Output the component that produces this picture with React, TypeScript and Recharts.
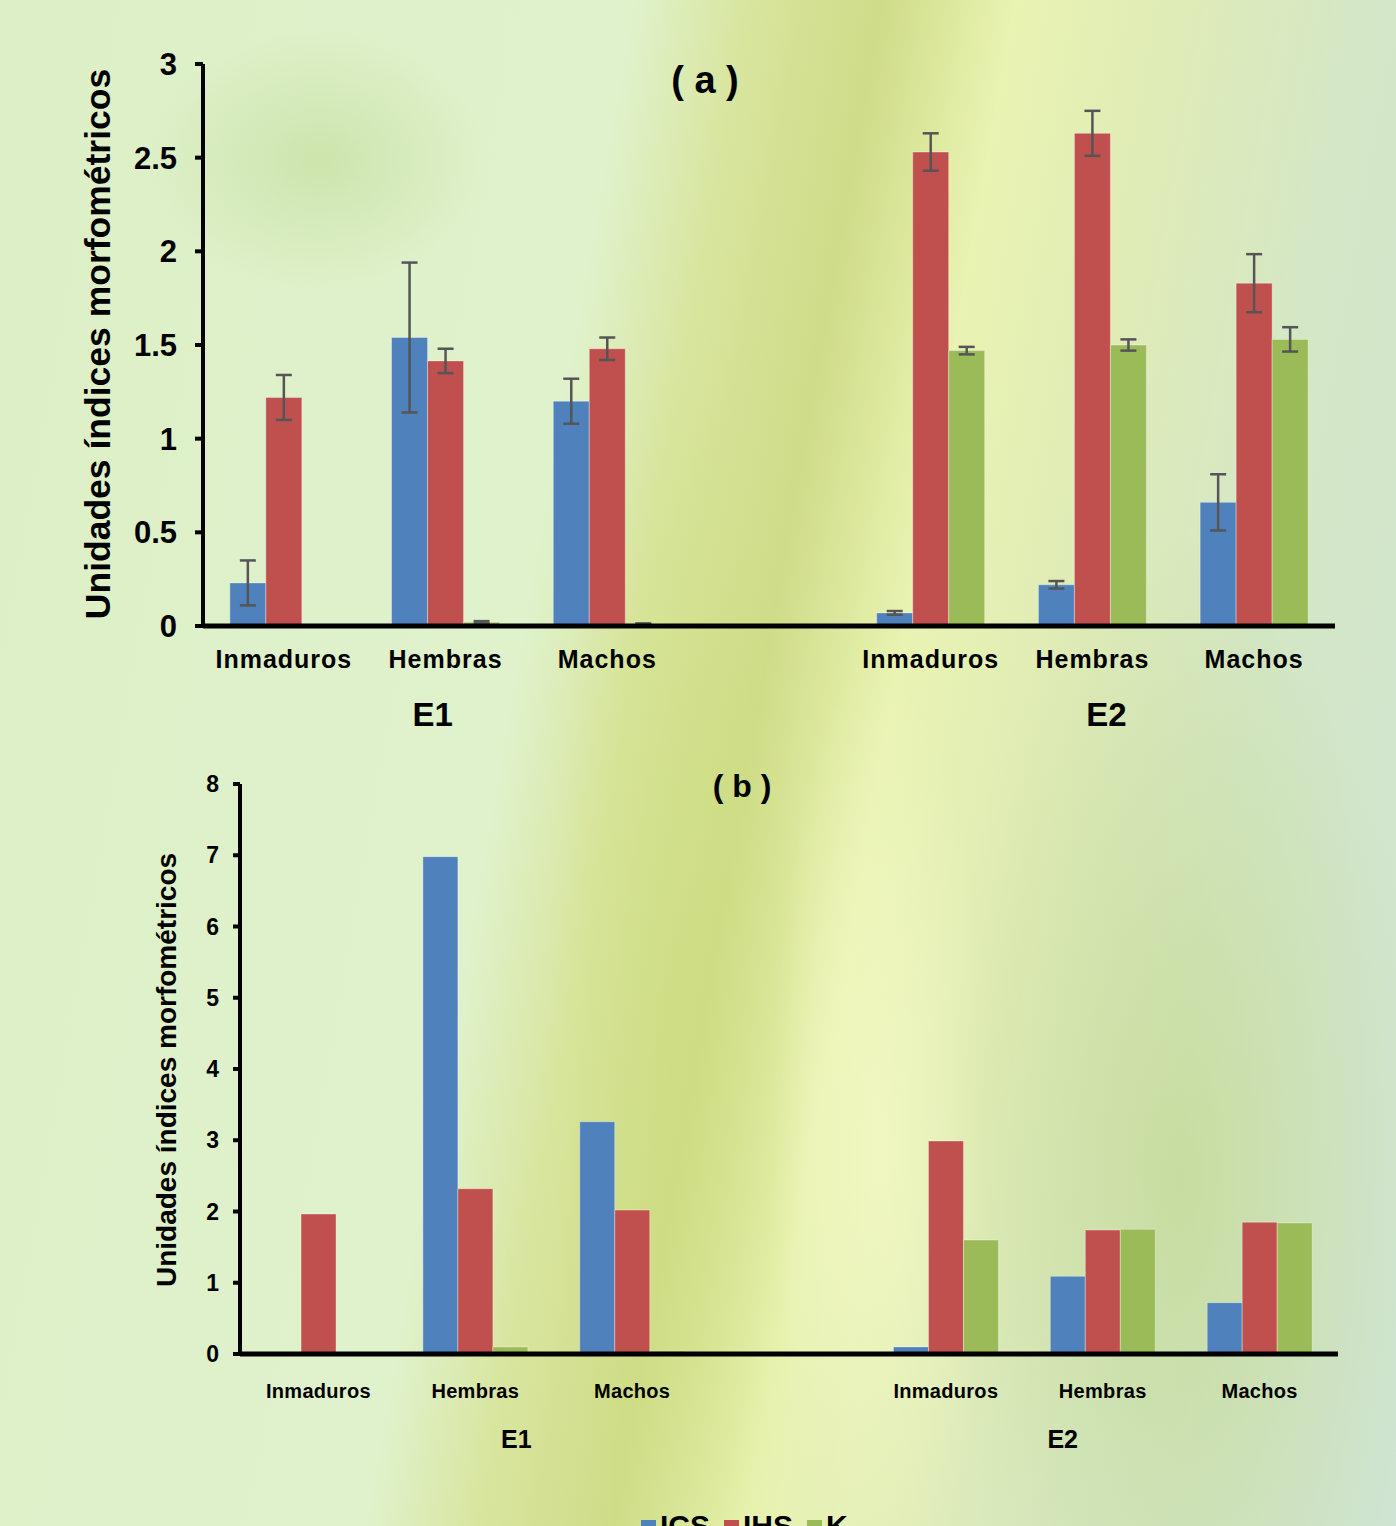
import React from 'react';
import { BarChart, Bar, XAxis, YAxis, ErrorBar } from 'recharts';

// categories along the x axis (the empty slot separates E1 from E2)
const categories = ['Inmaduros', 'Hembras', 'Machos', '', 'Inmaduros', 'Hembras', 'Machos'];
const groups = ['', 'E1', '', '', '', 'E2', ''];
const seriesNames = ['ICS', 'IHS', 'K'];

// panel (a) means and error bars
const icsA = [0.23, 1.54, 1.2, null, 0.07, 0.22, 0.66];
const icsAErr = [0.12, 0.4, 0.12, null, 0.01, 0.02, 0.15];
const ihsA = [1.22, 1.415, 1.48, null, 2.53, 2.63, 1.83];
const ihsAErr = [0.12, 0.065, 0.06, null, 0.1, 0.12, 0.155];
const kA = [0, 0.02, 0.01, null, 1.47, 1.5, 1.53];
const kAErr = [null, 0.006, 0.004, null, 0.02, 0.03, 0.065];

// panel (b) values
const icsB = [0, 6.98, 3.26, null, 0.1, 1.09, 0.72];
const ihsB = [1.965, 2.32, 2.02, null, 2.99, 1.74, 1.85];
const kB = [0, 0.1, 0.04, null, 1.6, 1.75, 1.84];

const ticksA = [0, 0.5, 1, 1.5, 2, 2.5, 3];
const ticksB = [0, 1, 2, 3, 4, 5, 6, 7, 8];

const COLORS = {
  ICS: '#4F81BD',
  IHS: '#C0504D',
  K: '#9BBB59',
};

const FONT = '"Liberation Sans", Arial, sans-serif';

const dataA = categories.map((c, i) => ({
  slot: String(i),
  ICS: icsA[i],
  ICSerr: icsAErr[i],
  IHS: ihsA[i],
  IHSerr: ihsAErr[i],
  K: kA[i],
  Kerr: kAErr[i],
}));

const dataB = categories.map((c, i) => ({
  slot: String(i),
  ICS: icsB[i],
  IHS: ihsB[i],
  K: kB[i],
}));

function makeTick(catSize: number, catDy: number, grpSize: number, grpDy: number, grpDx: number[], spacing: number) {
  return (props: any) => {
    const { x, y, payload } = props;
    const i = Number(payload.value);
    const g = groups[i];
    return (
      <g>
        <text x={x} y={y + catDy} textAnchor="middle" fontFamily={FONT} fontWeight="bold"
          fontSize={catSize} letterSpacing={spacing} fill="#000">
          {categories[i]}
        </text>
        {g && (
          <text x={x + (g === 'E1' ? grpDx[0] : grpDx[1])} y={y + grpDy} textAnchor="middle"
            fontFamily={FONT} fontWeight="bold" fontSize={grpSize} fill="#000">
            {g}
          </text>
        )}
      </g>
    );
  };
}

const TickA = makeTick(25, 42, 33, 100, [-13, 14], 1);
const TickB = makeTick(20, 44, 25, 94, [41, -40], 0.3);

const barStroke = 'rgba(255,255,255,0.35)';

export default function App() {
  return (
    <div
      style={{
        position: 'absolute',
        left: 0,
        top: 0,
        width: 1396,
        height: 1526,
        overflow: 'hidden',
        fontFamily: FONT,
        background: [
          'radial-gradient(ellipse 170px 130px at 320px 160px, rgba(180,210,130,0.4), rgba(180,210,130,0))',
          'radial-gradient(ellipse 240px 650px at 1180px 1180px, rgba(190,212,128,0.55), rgba(190,212,128,0))',
          'radial-gradient(ellipse 130px 700px at 680px 1050px, rgba(205,222,125,0.55), rgba(205,222,125,0))',
          'radial-gradient(ellipse 110px 500px at 880px 1150px, rgba(245,250,200,0.7), rgba(245,250,200,0))',
          'linear-gradient(100deg, #dcefc6 0%, #e0f2cc 38%, #d8e59e 45%, #cfdc88 53%, #e9f3b2 61%, #e0ecb6 70%, #d4e7c6 82%, #cfe4d2 100%)',
        ].join(', '),
      }}
    >
      {/* panel (a) */}
      <div style={{ position: 'absolute', left: 0, top: 0 }}>
        <BarChart width={1396} height={740} data={dataA}
          margin={{ top: 64, right: 61, left: 103, bottom: 0 }}
          barCategoryGap="16.6%" barGap={0}>
          <XAxis dataKey="slot" height={114} axisLine={{ stroke: '#000', strokeWidth: 5 }}
            tickLine={false} tickSize={0} tickMargin={0} interval={0} tick={TickA} />
          <YAxis width={100} domain={[0, 3]} ticks={ticksA} interval={0}
            axisLine={{ stroke: '#000', strokeWidth: 4 }}
            tickLine={{ stroke: '#000', strokeWidth: 4 }} tickSize={8} tickMargin={18}
            tick={{ fontFamily: FONT, fontWeight: 'bold', fontSize: 31, fill: '#000' }} />
          {seriesNames.map((s) => (
            <Bar key={s} dataKey={s} fill={COLORS[s as keyof typeof COLORS]} stroke={barStroke}
              strokeWidth={1} isAnimationActive={false}>
              <ErrorBar dataKey={`${s}err`} width={8} stroke="#555" strokeWidth={2.5} direction="y" />
            </Bar>
          ))}
        </BarChart>
      </div>

      {/* panel (b) */}
      <div style={{ position: 'absolute', left: 0, top: 740 }}>
        <BarChart width={1396} height={786} data={dataB}
          margin={{ top: 44, right: 58, left: 140, bottom: 52 }}
          barCategoryGap="16.6%" barGap={0}>
          <XAxis dataKey="slot" height={120} axisLine={{ stroke: '#000', strokeWidth: 5 }}
            tickLine={false} tickSize={0} tickMargin={0} interval={0} tick={TickB} />
          <YAxis width={100} domain={[0, 8]} ticks={ticksB} interval={0}
            axisLine={{ stroke: '#000', strokeWidth: 4 }}
            tickLine={{ stroke: '#000', strokeWidth: 4 }} tickSize={7} tickMargin={14}
            tick={{ fontFamily: FONT, fontWeight: 'bold', fontSize: 23, fill: '#000' }} />
          {seriesNames.map((s) => (
            <Bar key={s} dataKey={s} fill={COLORS[s as keyof typeof COLORS]} stroke={barStroke}
              strokeWidth={1} isAnimationActive={false} />
          ))}
        </BarChart>
      </div>

      {/* titles */}
      <div style={{ position: 'absolute', left: 705, top: 80, transform: 'translate(-50%, -50%)',
        fontSize: 38, fontWeight: 'bold', whiteSpace: 'pre' }}>( a )</div>
      <div style={{ position: 'absolute', left: 742, top: 786, transform: 'translate(-50%, -50%)',
        fontSize: 32, fontWeight: 'bold', whiteSpace: 'pre' }}>( b )</div>

      <div style={{ position: 'absolute', left: 98, top: 344,
        transform: 'translate(-50%, -50%) rotate(-90deg)', fontSize: 35.5, fontWeight: 'bold',
        whiteSpace: 'nowrap' }}>Unidades índices morfométricos</div>
      <div style={{ position: 'absolute', left: 167, top: 1070,
        transform: 'translate(-50%, -50%) rotate(-90deg)', fontSize: 28, fontWeight: 'bold',
        whiteSpace: 'nowrap' }}>Unidades índices morfométricos</div>

      {/* legend, cut off by the page bottom as in the original */}
      <div style={{ position: 'absolute', left: 641, top: 1511, display: 'flex', lineHeight: 1,
        fontSize: 30, fontWeight: 'bold' }}>
        {seriesNames.map((s) => (
          <div key={s} style={{ display: 'flex', alignItems: 'flex-start', marginRight: 14 }}>
            <div style={{ width: 15, height: 15, marginTop: 9, marginRight: 4,
              background: COLORS[s as keyof typeof COLORS] }} />
            <span>{s}</span>
          </div>
        ))}
      </div>
    </div>
  );
}
